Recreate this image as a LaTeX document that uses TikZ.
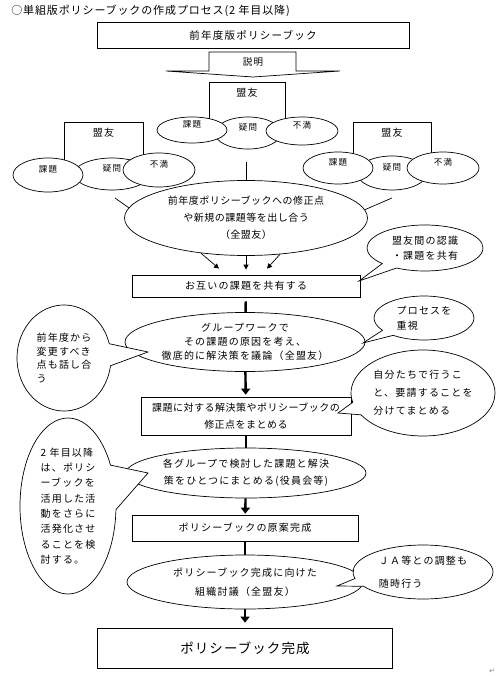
\documentclass[tikz,border=0pt]{standalone}
\usepackage{fontspec}
\setmainfont{Noto Sans CJK JP}[LetterSpace=12]
\newfontfamily\dejavufont{DejaVu Sans}
\usepackage{tikz}
\usetikzlibrary{shapes.geometric, shapes.callouts, arrows.meta, positioning}

\begin{document}
\begin{tikzpicture}[x=1pt, y=-1pt, line width=0.7pt,
    dims/.style 2 args={minimum width=#1, minimum height=#2},
    stepbox/.style={draw, fill=white, inner sep=0pt, align=center, font=\fontsize{10}{17}\selectfont},
    allyframe/.style={draw, anchor=north, inner sep=0pt, text height=14pt, text depth=#1, font=\fontsize{10}{12}\selectfont},
    opinion/.style={draw, ellipse, fill=white, inner sep=0pt, text height=7pt, text depth=11pt, font=\fontsize{8.5}{10}\selectfont},
    talk/.style={draw, ellipse, fill=white, inner sep=0pt, align=center, font=\fontsize{10}{17}\selectfont},
    memo/.style={draw, ellipse callout, fill=white, inner sep=0pt, align=left, callout pointer arc=18, font=\fontsize{10}{15}\selectfont},
    thinarrow/.style={-{Triangle[length=5pt, width=5pt]}, line width=0.7pt},
    thickline/.style={line width=2.4pt},
    thickarrow/.style={thickline, -{Triangle[length=6pt, width=9pt]}}
]
    \useasboundingbox (0,0) rectangle (500,676);

    % Title
    \node[anchor=west, inner sep=0pt, font=\fontsize{11}{13}\selectfont\addfontfeature{LetterSpace=8}] (title) at (11,11) {○単組版ポリシーブックの作成プロセス(2 年目以降)};

    % Last year's book and explanation arrow
    \node[stepbox, dims={312pt}{26pt}, font=\fontsize{10.5}{13}\selectfont] (lastbook) at (253,35) {前年度版ポリシーブック};
    \draw[fill=white] (209,52) -- (296,52) -- (296,71) -- (340,71) -- (253,77) -- (166,71) -- (209,71) -- cycle;
    \node[font=\fontsize{9.5}{11}\selectfont] (explain) at (253,62) {説明};

    % Allies
    \node[allyframe=34pt, minimum width=76pt] (allyc) at (247,82) {盟友};
    \node[allyframe=36pt, minimum width=79pt] (allyl) at (103.5,122) {盟友};
    \node[allyframe=34pt, minimum width=78pt] (allyr) at (392,122) {盟友};

    % Center group
    \node[opinion, dims={66pt}{32pt}] (doubtc) at (248,133) {疑問};
    \node[opinion, dims={70pt}{26pt}] (issuec) at (192,130) {課題};
    \node[opinion, dims={72pt}{28pt}] (discontc) at (302,131) {不満};
    % Left group
    \node[opinion, dims={76pt}{32pt}] (doubtl) at (112,174) {疑問};
    \node[opinion, dims={70pt}{34pt}] (issuel) at (48,175) {課題};
    \node[opinion, dims={72pt}{34pt}] (discontl) at (159,170) {不満};
    % Right group
    \node[opinion, dims={70pt}{34pt}] (doubtr) at (392,173) {疑問};
    \node[opinion, dims={70pt}{32pt}] (issuer) at (338,168) {課題};
    \node[opinion, dims={72pt}{32pt}] (discontr) at (443,168) {不満};

    % Review by all allies
    \node[talk, dims={243pt}{75pt}, font=\fontsize{10}{17}\selectfont\addfontfeature{LetterSpace=5}] (review) at (246,218) {前年度ポリシーブックへの修正点\\や新規の課題等を出し合う\\（全盟友）};
    \coordinate (hubc) at (246,162);
    \coordinate (hubl) at (115,198);
    \coordinate (hubr) at (392,198);
    \draw (hubc) -- (review.north);
    \draw (hubl) -- (review.175);
    \draw (hubr) -- (review.4);

    % Flow
    \node[stepbox, dims={228pt}{22pt}] (share) at (246,286) {お互いの課題を共有する};
    \draw[thinarrow] (review.218) -- ([xshift=-27pt, yshift=6pt]share.north);
    \draw[thinarrow] (review.south) -- ([yshift=5pt]share.north);
    \draw[thinarrow] (review.313) -- ([xshift=21pt, yshift=6pt]share.north);

    \node[talk, dims={240pt}{59pt}, font=\fontsize{10}{14}\selectfont] (workshop) at (245,342) {グループワークで\\その課題の原因を考え、\\徹底的に解決策を議論（全盟友）};
    \draw[thickline, shorten <=4pt] (share) -- (workshop);

    \node[stepbox, dims={210pt}{38pt}, font=\fontsize{10}{17}\selectfont\addfontfeature{LetterSpace=5}] (tasks) at (246,416) {課題に対する解決策やポリシーブックの\\修正点をまとめる};
    \draw[thickarrow, shorten >=2pt] (workshop) -- (tasks);

    \node[talk, dims={240pt}{50pt}] (merge) at (246,473) {各グループで検討した課題と解決\\策をひとつにまとめる(役員会等)};
    \draw[thickline] (tasks) -- (merge);

    \node[stepbox, dims={226pt}{26pt}] (draft) at (245,528) {ポリシーブックの原案完成};
    \draw[thickarrow, shorten >=1pt] (merge) -- (draft);

    \node[talk, dims={236pt}{54pt}, font=\fontsize{10}{19}\selectfont] (discuss) at (245,582) {ポリシーブック完成に向けた\\組織討議（全盟友）};
    \draw[thickline] (draft) -- (discuss);

    \node[stepbox, dims={295pt}{40pt}, font=\fontsize{13.5}{16}\selectfont\addfontfeature{LetterSpace=8}] (complete) at (245,648) {ポリシーブック完成};
    \draw[thickarrow, shorten >=5pt] (discuss) -- (complete);

    % Notes
    \node[memo, dims={116pt}{46pt}, callout absolute pointer={(359,281)}] (sharenote) at (425,248) {盟友間の認識\\・課題を共有};
    \node[memo, dims={100pt}{44pt}, callout absolute pointer={(363,343)}] (processnote) at (424,318) {プロセスを\\重視};
    \node[memo, dims={94pt}{106pt}, callout pointer arc=24, font=\fontsize{10}{13.5}\selectfont, callout absolute pointer={(148,352)}] (changenote) at (64,358) {前年度から\\変更すべき\\点も話し合\\う};
    \node[memo, dims={144pt}{86pt}, font=\fontsize{10}{18}\selectfont, callout absolute pointer={(338,413)}] (selfnote) at (423,393) {自分たちで行うこ\\と、要請することを\\分けてまとめる};
    \node[memo, dims={96pt}{176pt}, callout pointer arc=30, font=\fontsize{10}{15.3}\selectfont, callout absolute pointer={(148,473)}] (futurenote) at (68,506) {2 年目以降\\は、ポリシ\\ーブックを\\活用した活\\動をさらに\\活発化させ\\ることを検\\討する。};
    \node[memo, dims={140pt}{54pt}, font=\fontsize{10}{23}\selectfont, callout absolute pointer={(337,586)}] (janote) at (423,572) {ＪＡ等との調整も\\随時行う};

    \node[text=gray, font=\dejavufont\fontsize{7}{8}\selectfont] (mark) at (492,671) {↵};
\end{tikzpicture}
\end{document}
